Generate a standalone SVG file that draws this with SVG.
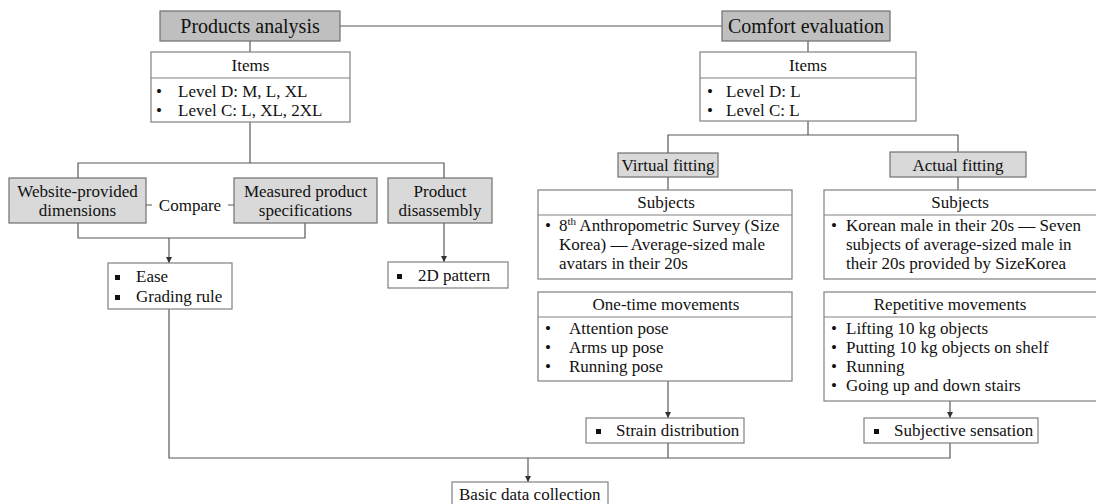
<svg xmlns="http://www.w3.org/2000/svg" width="1096" height="504" viewBox="0 0 1096 504">
<style>
text{font-family:"Liberation Serif","Times New Roman",serif;fill:#111;font-size:17px}
.t{font-size:20px}
.c{text-anchor:middle}
.box{fill:#fff;stroke:#808080;stroke-width:1.2}
.dark{fill:#bfbfbf;stroke:#6f6f6f;stroke-width:1.2}
.light{fill:#d9d9d9;stroke:#6f6f6f;stroke-width:1.2}
.div{stroke:#808080;stroke-width:1.2}
.ln{fill:none;stroke:#595959;stroke-width:1.2}
.sq{fill:#111}
</style>
<defs>
<marker id="ah" markerUnits="userSpaceOnUse" markerWidth="6" markerHeight="6" refX="6" refY="3" orient="auto">
<path d="M0,0 L6,3 L0,6 z" fill="#333"/>
</marker>
</defs>
<g id="connectors">
<path class="ln" d="M340,26 H722"/>
<path class="ln" d="M250,41 V52"/>
<path class="ln" d="M808,41 V52"/>
<path class="ln" d="M250,122 V163 M78,178 V163 H444 V178"/>
<path class="ln" d="M146,205 H152 M228,205 H234"/>
<path class="ln" d="M78,223 V238 H305 V223"/>
<path class="ln" d="M169,238 V263" marker-end="url(#ah)"/>
<path class="ln" d="M444,223 V262" marker-end="url(#ah)"/>
<path class="ln" d="M808,121 V135 M668,153 V135 H958 V152"/>
<path class="ln" d="M668,177 V190 M958,177 V190"/>
<path class="ln" d="M668,381 V418" marker-end="url(#ah)"/>
<path class="ln" d="M950,401 V418" marker-end="url(#ah)"/>
<path class="ln" d="M169,309 V458 H950 V443 M668,443 V458"/>
<path class="ln" d="M528,458 V482" marker-end="url(#ah)"/>
</g>
<g id="products">
<rect class="dark" x="160" y="11" width="180" height="30"/>
<text class="t c" x="250" y="33">Products analysis</text>
</g>
<g id="comfort">
<rect class="dark" x="722" y="11" width="168" height="30"/>
<text class="t c" x="806" y="33">Comfort evaluation</text>
</g>
<g id="items1">
<rect class="box" x="151" y="52" width="199" height="70"/>
<line class="div" x1="151" y1="78" x2="350" y2="78"/>
<text class="c" x="250.5" y="71">Items</text>
<text x="156" y="97">•</text><text x="178" y="97">Level D: M, L, XL</text>
<text x="156" y="116">•</text><text x="178" y="116">Level C: L, XL, 2XL</text>
</g>
<g id="items2">
<rect class="box" x="700" y="52" width="216" height="69"/>
<line class="div" x1="700" y1="78" x2="916" y2="78"/>
<text class="c" x="808" y="71">Items</text>
<text x="707" y="97">•</text><text x="726" y="97">Level D: L</text>
<text x="707" y="116">•</text><text x="726" y="116">Level C: L</text>
</g>
<g id="website">
<rect class="light" x="9" y="178" width="137" height="45"/>
<text class="c" x="77.5" y="197">Website-provided</text>
<text class="c" x="77.5" y="216">dimensions</text>
</g>
<g id="compare">
<text class="c" x="190" y="211">Compare</text>
</g>
<g id="measured">
<rect class="light" x="234" y="178" width="143" height="45"/>
<text class="c" x="305.5" y="197">Measured product</text>
<text class="c" x="305.5" y="216">specifications</text>
</g>
<g id="disassembly">
<rect class="light" x="388" y="178" width="104" height="45"/>
<text class="c" x="440" y="197">Product</text>
<text class="c" x="440" y="216">disassembly</text>
</g>
<g id="ease">
<rect class="box" x="108" y="263" width="124" height="46"/>
<rect class="sq" x="115" y="275" width="5" height="5"/>
<text x="136" y="282">Ease</text>
<rect class="sq" x="115" y="295" width="5" height="5"/>
<text x="136" y="302">Grading rule</text>
</g>
<g id="pattern">
<rect class="box" x="388" y="262" width="120" height="26"/>
<rect class="sq" x="397" y="274" width="5" height="5"/>
<text x="418" y="281">2D pattern</text>
</g>
<g id="virtual">
<rect class="light" x="618" y="153" width="100" height="24"/>
<text class="c" x="668" y="171">Virtual fitting</text>
</g>
<g id="actual">
<rect class="light" x="890" y="152" width="136" height="25"/>
<text class="c" x="958" y="171">Actual fitting</text>
</g>
<g id="subjects-virtual">
<rect class="box" x="538" y="190" width="254" height="89"/>
<line class="div" x1="538" y1="215" x2="792" y2="215"/>
<text class="c" x="666" y="208">Subjects</text>
<text x="545" y="231">•</text>
<text x="559" y="231">8<tspan font-size="11" dy="-6">th</tspan><tspan dy="6"> Anthropometric Survey (Size</tspan></text>
<text x="559" y="250">Korea) — Average-sized male</text>
<text x="559" y="269">avatars in their 20s</text>
</g>
<g id="subjects-actual">
<rect class="box" x="824" y="190" width="300" height="89"/>
<line class="div" x1="824" y1="215" x2="1124" y2="215"/>
<text class="c" x="960" y="208">Subjects</text>
<text x="831" y="231">•</text>
<text x="846" y="231">Korean male in their 20s — Seven</text>
<text x="846" y="250">subjects of average-sized male in</text>
<text x="846" y="269">their 20s provided by SizeKorea</text>
</g>
<g id="onetime">
<rect class="box" x="538" y="292" width="254" height="89"/>
<line class="div" x1="538" y1="317" x2="792" y2="317"/>
<text class="c" x="666" y="310">One-time movements</text>
<text x="545" y="334">•</text><text x="569" y="334">Attention pose</text>
<text x="545" y="353">•</text><text x="569" y="353">Arms up pose</text>
<text x="545" y="372">•</text><text x="569" y="372">Running pose</text>
</g>
<g id="repetitive">
<rect class="box" x="824" y="292" width="300" height="109"/>
<line class="div" x1="824" y1="317" x2="1124" y2="317"/>
<text class="c" x="950" y="310">Repetitive movements</text>
<text x="831" y="334">•</text><text x="846" y="334">Lifting 10 kg objects</text>
<text x="831" y="353">•</text><text x="846" y="353">Putting 10 kg objects on shelf</text>
<text x="831" y="372">•</text><text x="846" y="372">Running</text>
<text x="831" y="391">•</text><text x="846" y="391">Going up and down stairs</text>
</g>
<g id="strain">
<rect class="box" x="586" y="418" width="158" height="25"/>
<rect class="sq" x="596" y="429" width="5" height="5"/>
<text x="616" y="436">Strain distribution</text>
</g>
<g id="subjective">
<rect class="box" x="864" y="418" width="174" height="25"/>
<rect class="sq" x="874" y="429" width="5" height="5"/>
<text x="894" y="436">Subjective sensation</text>
</g>
<g id="basic">
<rect class="box" x="452" y="482" width="156" height="26"/>
<text x="459" y="500">Basic data collection</text>
</g>
</svg>
